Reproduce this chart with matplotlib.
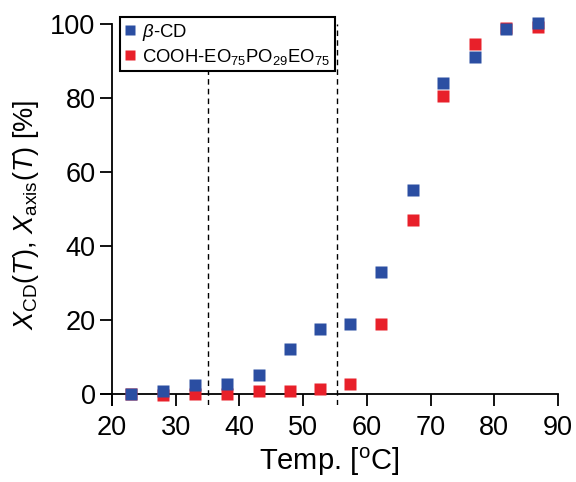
import matplotlib
matplotlib.use("Agg")
import matplotlib.pyplot as plt

temp = [23, 28, 33, 38, 43, 48, 52.7, 57.4, 62.3, 67.3, 71.9, 76.9, 81.8, 86.8]
x_cd = [0, 0.9, 2.3, 2.7, 5.1, 12.1, 17.5, 18.8, 33, 55, 84, 91, 98.6, 100.2]
x_axis = [0, -0.2, 0, 0, 0.7, 0.7, 1.3, 2.6, 18.9, 47, 80.5, 94.6, 99, 99.1]
vlines = [35, 55.3]
xticks = [20, 30, 40, 50, 60, 70, 80, 90]
yticks = [0, 20, 40, 60, 80, 100]

plt.rcParams['font.family'] = ['Liberation Sans', 'DejaVu Sans']
plt.rcParams['mathtext.fontset'] = 'custom'
plt.rcParams['mathtext.rm'] = 'Liberation Sans'
plt.rcParams['mathtext.it'] = 'Liberation Sans:italic'
plt.rcParams['mathtext.bf'] = 'Liberation Sans:bold'

fig = plt.figure(figsize=(5.76, 4.82), dpi=100)
ax = fig.add_axes([0.1753, 0.1598, 0.7934, 0.7905])

blue = '#2B4EA2'
red = '#E8202A'

for v in vlines:
    ax.axvline(v, ymin=0, ymax=1, color='black', ls=(0, (4, 3)), lw=1.0, zorder=1)

ax.plot(temp, x_axis, 's', color=red, ms=8, mec='none', label='COOH-EO$_{75}$PO$_{29}$EO$_{75}$', clip_on=False, zorder=3)
ax.plot(temp, x_cd, 's', color=blue, ms=8, mec='none', label=r'$\beta$-CD', clip_on=False, zorder=4)

ax.set_xlim(18.27, 90)
ax.set_ylim(-2.97, 100)
ax.spines['left'].set_position(('data', 20))
ax.spines['bottom'].set_position(('data', 0))
ax.spines['top'].set_visible(False)
ax.spines['right'].set_visible(False)
for s in ['left', 'bottom']:
    ax.spines[s].set_linewidth(1.3)
ax.set_xticks(xticks)
ax.set_yticks(yticks)
ax.tick_params(axis='both', direction='out', length=8.3, width=1.3, labelsize=19.5)
ax.tick_params(axis='x', pad=7)
ax.tick_params(axis='y', pad=3.5)

ax.set_xlabel('Temp. [$^{\\rm o}$C]', fontsize=21, labelpad=3)
ax.set_ylabel('$X_{\\rm CD}(T)$, $X_{\\rm axis}(T)$ [%]', fontsize=19.5, labelpad=7)

h, l = ax.get_legend_handles_labels()
leg = ax.legend(h[::-1], l[::-1], loc='upper left', bbox_to_anchor=(0.0416, 1.018), fontsize=13.3,
                frameon=True, fancybox=False, edgecolor='black', framealpha=1,
                handlelength=0.55, handletextpad=0.4, borderpad=0.25, labelspacing=0.22,
                borderaxespad=0, markerscale=0.95)
leg.get_frame().set_linewidth(1.5)
leg.set_zorder(10)

fig.savefig('out.png', dpi=100)
